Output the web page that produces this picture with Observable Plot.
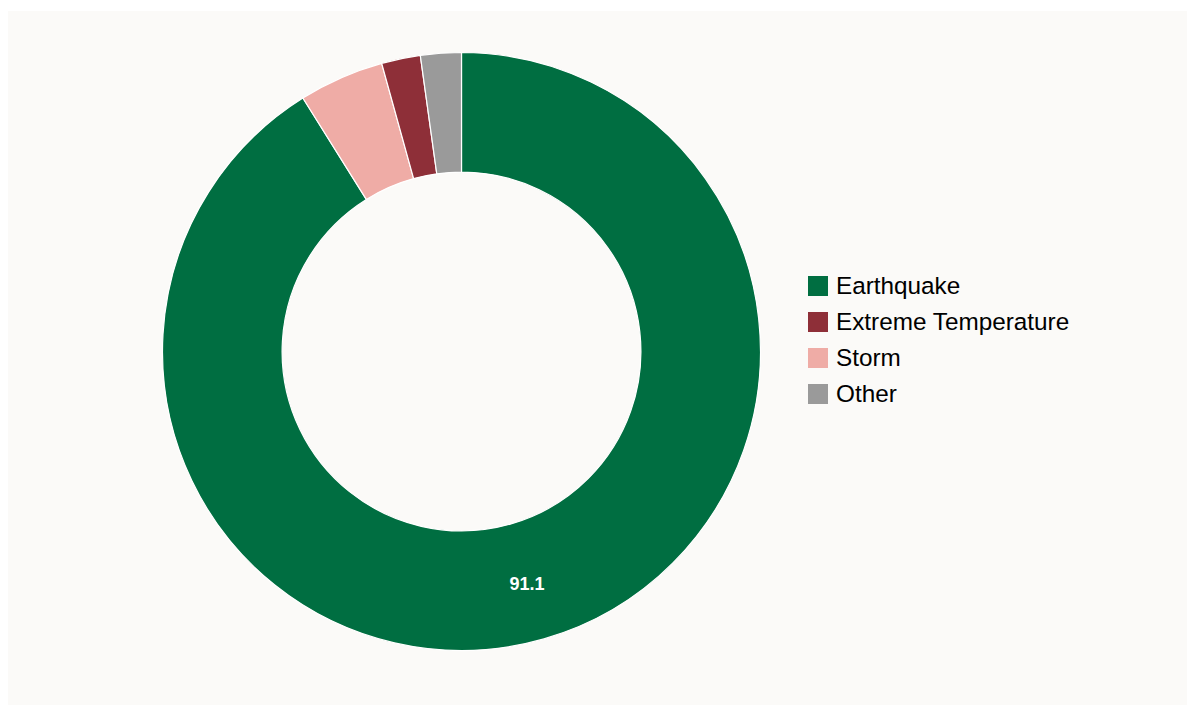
<!DOCTYPE html>
<html>
<head>
<meta charset="utf-8">
<script src="https://cdn.jsdelivr.net/npm/d3@7"></script>
<script src="https://cdn.jsdelivr.net/npm/@observablehq/plot@0.6"></script>
<style>
  html, body { margin: 0; padding: 0; background: #ffffff; }
  #panel { position: absolute; left: 8px; top: 11px; width: 1179px; height: 694px; background: #FBFAF8; }
  #chart { position: absolute; left: 0; top: 0; }
  #legend { position: absolute; left: 800px; top: 257px; }
  #legend [class$="-swatches"] { font-family: "Liberation Sans", Arial, sans-serif !important; font-size: 24.3px !important; color: #2b2b2b; margin: 0 !important; }
  #legend [class$="-swatch"] { display: flex !important; align-items: center !important; height: 36px !important; padding: 0 !important; margin: 0 !important; }
  #legend [class$="-swatch"] svg { margin-right: 8px !important; }
</style>
</head>
<body>
<div id="panel">
  <div id="chart"></div>
  <div id="legend"></div>
</div>
<script>
// ---- data ----
const categories = ["Earthquake", "Extreme Temperature", "Storm", "Other"];
const values = [91.1, 2.1, 4.6, 2.2];
const colors = ["#006E41", "#8E2F38", "#EFACA6", "#9A9A9A"];
// clockwise order of slices starting at 12 o'clock
const sliceOrder = ["Earthquake", "Storm", "Extreme Temperature", "Other"];

// ---- layout constants ----
const W = 1179, H = 694;
const cx = 453.5, cy = 340.5, R = 299, innerRatio = 0.6;

const colorSpec = {domain: categories, range: colors};
const colorScale = Plot.scale({color: colorSpec});

const rows = sliceOrder.map(c => ({category: c, value: values[categories.indexOf(c)]}));
const pie = d3.pie().sort(null).value(d => d.value)(rows);

// label positions in data units (unit circle, y up)
const labelData = pie
  .filter(p => p.data.value >= 10)
  .map(p => {
    const a = (p.startAngle + p.endAngle) / 2;
    const r = (1 + innerRatio) / 2;
    return {x: r * Math.sin(a), y: r * Math.cos(a), text: String(p.data.value)};
  });

function donut(index, scales, vals, dims, context) {
  const x0 = scales.x(0), y0 = scales.y(0);
  const rad = scales.x(1) - x0;
  const arc = d3.arc().outerRadius(rad).innerRadius(rad * innerRatio);
  const g = d3.create("svg:g").attr("transform", `translate(${x0},${y0})`);
  g.selectAll("path")
    .data(pie)
    .join("path")
    .attr("d", arc)
    .attr("fill", d => colorScale.apply(d.data.category))
    .attr("stroke", "#ffffff")
    .attr("stroke-width", 1.2);
  return g.node();
}

const chart = Plot.plot({
  width: W,
  height: H,
  margin: 0,
  style: {background: "transparent", overflow: "visible"},
  x: {domain: [-1, 1], range: [cx - R, cx + R], axis: null},
  y: {domain: [-1, 1], range: [cy + R, cy - R], axis: null},
  marks: [
    donut,
    Plot.text(labelData, {
      x: "x", y: "y", text: "text", dx: -1, dy: 2,
      fill: "white", fontWeight: "bold", fontSize: 18,
      fontFamily: "Liberation Sans, Arial, sans-serif"
    })
  ]
});
document.getElementById("chart").appendChild(chart);

const legend = Plot.legend({
  legend: "swatches",
  color: colorSpec,
  swatchSize: 20,
  columns: 1,
  style: {fontFamily: "Liberation Sans, Arial, sans-serif", fontSize: "24.3px", background: "transparent"}
});
document.getElementById("legend").appendChild(legend);
</script>
</body>
</html>
